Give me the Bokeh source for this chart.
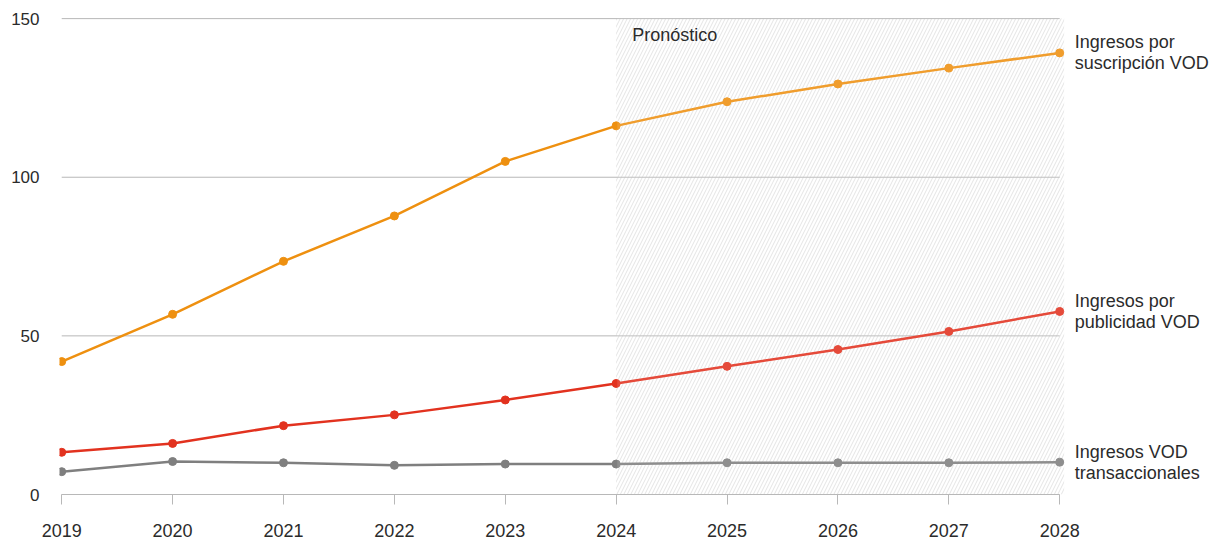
from bokeh.plotting import figure
from bokeh.models import ColumnDataSource, Range1d, FixedTicker, Label
from bokeh.embed import file_html
from bokeh.resources import INLINE

# Revenue series (billions), 2024 onward is forecast
years = [2019, 2020, 2021, 2022, 2023, 2024, 2025, 2026, 2027, 2028]
suscripcion = [41.9, 56.8, 73.5, 87.8, 105.0, 116.2, 123.8, 129.4, 134.4, 139.2]
publicidad = [13.3, 16.1, 21.7, 25.1, 29.8, 35.0, 40.4, 45.7, 51.4, 57.7]
transaccional = [7.2, 10.4, 10.0, 9.2, 9.6, 9.6, 10.0, 10.0, 10.0, 10.2]

series_names = [("Ingresos por", "suscripción VOD"),
                ("Ingresos por", "publicidad VOD"),
                ("Ingresos VOD", "transaccionales")]
series_colors = ["#EE9010", "#E2321F", "#7F7F7F"]
forecast_start = 2024
forecast_label = "Pronóstico"
y_ticks = [0, 50, 100, 150]

FONT = "Liberation Sans"
TEXT = "#2b2b2b"
GRID = "#b8b8b8"
Y_TOP = 151.3
X_START, X_END = 2018.98, 2029.45   # right part of the frame holds the series labels
BAND_END = years[-1] + 0.04
LINE_GAP = 10.5  # half the distance between the two label lines, px

p = figure(width=1220, height=539, output_backend="svg", toolbar_location=None,
           x_range=Range1d(X_START, X_END), y_range=Range1d(0, Y_TOP),
           min_border_left=59, min_border_right=0, min_border_top=14,
           min_border_bottom=45)
p.outline_line_color = None
p.background_fill_color = "white"

# Forecast band with diagonal hatching
p.quad(left=[forecast_start], right=[BAND_END], bottom=[0], top=[y_ticks[-1]],
       fill_color="white", fill_alpha=0, line_color=None,
       hatch_pattern="/", hatch_color="#e2e2e2", hatch_scale=7, hatch_weight=1)

# Horizontal gridlines across the data span only
p.segment(x0=[years[0]] * len(y_ticks), x1=[years[-1]] * len(y_ticks),
          y0=y_ticks, y1=y_ticks, line_color=GRID, line_width=1)

series = [suscripcion, publicidad, transaccional]
for vals, color in zip(series, series_colors):
    src = ColumnDataSource(dict(x=years, y=vals))
    p.line("x", "y", source=src, line_color=color, line_width=2.5)
    p.scatter("x", "y", source=src, size=8, fill_color=color, line_color=color)

# Soften the forecast part of the lines
p.quad(left=[forecast_start + 0.01], right=[BAND_END], bottom=[0], top=[y_ticks[-1]],
       fill_color="white", fill_alpha=0.12, line_color=None)

# End-of-line series labels, centred on each series' last point
for vals, (line1, line2) in zip(series, series_names):
    for txt, dy in ((line1, LINE_GAP), (line2, -LINE_GAP)):
        p.add_layout(Label(x=years[-1], y=vals[-1], text=txt, x_offset=15,
                           y_offset=dy, text_baseline="middle", text_align="left",
                           text_font=FONT, text_font_size="18px",
                           text_color=TEXT))

p.add_layout(Label(x=forecast_start, y=y_ticks[-1], text=forecast_label, x_offset=16,
                   y_offset=-16, text_baseline="middle", text_align="left",
                   text_font=FONT, text_font_size="18px", text_color=TEXT))

# Axes
p.xaxis.ticker = FixedTicker(ticks=years)
p.xaxis.bounds = (years[0], years[-1])
p.xaxis.axis_line_color = GRID
p.xaxis.major_tick_line_color = GRID
p.xaxis.major_tick_out = 10
p.xaxis.major_tick_in = 0
p.xaxis.minor_tick_line_color = None
p.xaxis.major_label_standoff = 19
p.xaxis.major_label_text_font = FONT
p.xaxis.major_label_text_font_size = "18px"
p.xaxis.major_label_text_color = TEXT

p.yaxis.ticker = FixedTicker(ticks=y_ticks)
p.yaxis.axis_line_color = None
p.yaxis.major_tick_line_color = None
p.yaxis.minor_tick_line_color = None
p.yaxis.major_label_standoff = 14
p.yaxis.major_label_text_font = FONT
p.yaxis.major_label_text_font_size = "17px"
p.yaxis.major_label_text_color = TEXT

p.xgrid.grid_line_color = None
p.ygrid.grid_line_color = None

open("out.html", "w").write(file_html(p, INLINE))
